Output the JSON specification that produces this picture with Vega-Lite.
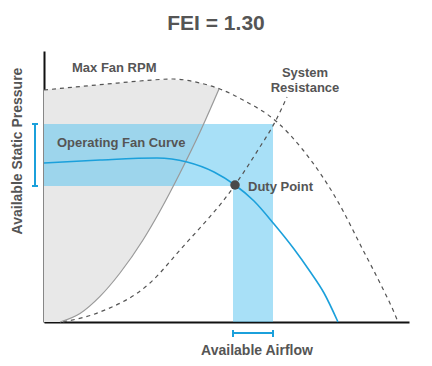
{
  "$schema": "https://vega.github.io/schema/vega-lite/v6.json",
  "width": 365,
  "height": 271,
  "autosize": {"type": "none"},
  "padding": {"left": 44, "top": 51, "right": 23, "bottom": 44},
  "background": "white",
  "config": {
    "view": {"stroke": null},
    "axis": {"domainColor": "#111111", "domainWidth": 2, "ticks": false, "labels": false, "grid": false, "title": null},
    "text": {"font": "Liberation Sans", "fontWeight": "bold", "fill": "#555555"}
  },
  "datasets": {
    "region": [
      {"x": 0, "top": 232, "bottom": 0},
      {"x": 16, "top": 233.5, "bottom": 0},
      {"x": 36, "top": 235.4, "bottom": 8.5},
      {"x": 56, "top": 237.3, "bottom": 25.6},
      {"x": 76, "top": 239.2, "bottom": 49},
      {"x": 99, "top": 241.2, "bottom": 82},
      {"x": 116, "top": 242.2, "bottom": 111},
      {"x": 136, "top": 242, "bottom": 149},
      {"x": 156, "top": 239, "bottom": 190},
      {"x": 175, "top": 233.3, "bottom": 233}
    ],
    "bands": [
      {"x": 0, "x2": 229, "y": 136, "y2": 198},
      {"x": 189, "x2": 229, "y": 0, "y2": 136}
    ],
    "curves": [
      {"series": "Max Fan RPM", "x": 0, "y": 232},
      {"series": "Max Fan RPM", "x": 63, "y": 238},
      {"series": "Max Fan RPM", "x": 96, "y": 241},
      {"series": "Max Fan RPM", "x": 129, "y": 243},
      {"series": "Max Fan RPM", "x": 156, "y": 239},
      {"series": "Max Fan RPM", "x": 176, "y": 233},
      {"series": "Max Fan RPM", "x": 199, "y": 222},
      {"series": "Max Fan RPM", "x": 233, "y": 200},
      {"series": "Max Fan RPM", "x": 259, "y": 172},
      {"series": "Max Fan RPM", "x": 293, "y": 122},
      {"series": "Max Fan RPM", "x": 319, "y": 72},
      {"series": "Max Fan RPM", "x": 336, "y": 39},
      {"series": "Max Fan RPM", "x": 352, "y": 5},
      {"series": "Max Fan RPM", "x": 354, "y": 0},
      {"series": "System Resistance", "x": 19, "y": 0},
      {"series": "System Resistance", "x": 56, "y": 10},
      {"series": "System Resistance", "x": 106, "y": 39},
      {"series": "System Resistance", "x": 136, "y": 72},
      {"series": "System Resistance", "x": 191, "y": 137},
      {"series": "System Resistance", "x": 214, "y": 172},
      {"series": "System Resistance", "x": 231, "y": 200},
      {"series": "System Resistance", "x": 243, "y": 225},
      {"series": "Operating Fan Curve", "x": 0, "y": 159},
      {"series": "Operating Fan Curve", "x": 56, "y": 162},
      {"series": "Operating Fan Curve", "x": 113, "y": 164},
      {"series": "Operating Fan Curve", "x": 143, "y": 160},
      {"series": "Operating Fan Curve", "x": 170, "y": 150},
      {"series": "Operating Fan Curve", "x": 191, "y": 137},
      {"series": "Operating Fan Curve", "x": 210, "y": 121},
      {"series": "Operating Fan Curve", "x": 230, "y": 98},
      {"series": "Operating Fan Curve", "x": 250, "y": 73},
      {"series": "Operating Fan Curve", "x": 265, "y": 52},
      {"series": "Operating Fan Curve", "x": 280, "y": 29},
      {"series": "Operating Fan Curve", "x": 294, "y": 0},
      {"series": "Fan Limit", "x": 16, "y": 0},
      {"series": "Fan Limit", "x": 36, "y": 8.5},
      {"series": "Fan Limit", "x": 56, "y": 25.6},
      {"series": "Fan Limit", "x": 76, "y": 49},
      {"series": "Fan Limit", "x": 99, "y": 82},
      {"series": "Fan Limit", "x": 116, "y": 111},
      {"series": "Fan Limit", "x": 136, "y": 149},
      {"series": "Fan Limit", "x": 156, "y": 190},
      {"series": "Fan Limit", "x": 175, "y": 233}
    ],
    "brackets": [
      {"x": -9, "x2": -9, "y": 136, "y2": 198},
      {"x": -12, "x2": -6, "y": 136, "y2": 136},
      {"x": -12, "x2": -6, "y": 198, "y2": 198},
      {"x": 189, "x2": 229, "y": -11, "y2": -11},
      {"x": 189, "x2": 189, "y": -8, "y2": -15},
      {"x": 229, "x2": 229, "y": -8, "y2": -15}
    ],
    "duty": [{"x": 191, "y": 137}],
    "leftLabels": [
      {"x": 28, "y": 250, "label": "Max Fan RPM"},
      {"x": 13, "y": 175, "label": "Operating Fan Curve"},
      {"x": 204, "y": 131, "label": "Duty Point"}
    ],
    "centerLabels": [
      {"x": 261, "y": 245, "label": "System"},
      {"x": 261, "y": 230, "label": "Resistance"}
    ],
    "titles": [
      {"x": 172, "y": 292, "label": "FEI = 1.30"}
    ],
    "axisTitles": [
      {"x": 213, "y": -33, "label": "Available Airflow", "angle": 0},
      {"x": -22, "y": 171, "label": "Available Static Pressure", "angle": 270}
    ]
  },
  "encoding": {
    "x": {"field": "x", "type": "quantitative", "scale": {"domain": [0, 365], "nice": false, "zero": false}, "axis": {"orient": "bottom"}},
    "y": {"field": "y", "type": "quantitative", "scale": {"domain": [0, 271], "nice": false, "zero": false}, "axis": {"orient": "left"}}
  },
  "layer": [
    {
      "data": {"name": "region"},
      "mark": {"type": "area", "color": "#e8e8e8", "interpolate": "monotone"},
      "encoding": {
        "y": {"field": "top", "type": "quantitative"},
        "y2": {"field": "bottom"}
      }
    },
    {
      "data": {"name": "bands"},
      "mark": {"type": "rect", "color": "#52c2ef", "opacity": 0.5},
      "encoding": {
        "x2": {"field": "x2"},
        "y2": {"field": "y2"}
      }
    },
    {
      "data": {"name": "curves"},
      "transform": [{"filter": "datum.series === 'Fan Limit'"}],
      "mark": {"type": "line", "color": "#9a9a9a", "strokeWidth": 1.2, "interpolate": "monotone"}
    },
    {
      "data": {"name": "curves"},
      "transform": [{"filter": "datum.series === 'Max Fan RPM' || datum.series === 'System Resistance'"}],
      "mark": {"type": "line", "color": "#555555", "strokeWidth": 1.2, "strokeDash": [4, 4], "interpolate": "monotone"},
      "encoding": {"detail": {"field": "series"}}
    },
    {
      "data": {"name": "curves"},
      "transform": [{"filter": "datum.series === 'Operating Fan Curve'"}],
      "mark": {"type": "line", "color": "#1ba0db", "strokeWidth": 1.6, "interpolate": "monotone"}
    },
    {
      "data": {"name": "brackets"},
      "mark": {"type": "rule", "color": "#1ba0db", "strokeWidth": 2},
      "encoding": {
        "x2": {"field": "x2"},
        "y2": {"field": "y2"}
      }
    },
    {
      "data": {"name": "duty"},
      "mark": {"type": "point", "filled": true, "color": "#4a4a4a", "size": 90, "opacity": 1}
    },
    {
      "data": {"name": "leftLabels"},
      "mark": {"type": "text", "fontSize": 13, "baseline": "alphabetic", "align": "left"},
      "encoding": {"text": {"field": "label"}}
    },
    {
      "data": {"name": "centerLabels"},
      "mark": {"type": "text", "fontSize": 13, "baseline": "alphabetic", "align": "center"},
      "encoding": {"text": {"field": "label"}}
    },
    {
      "data": {"name": "titles"},
      "mark": {"type": "text", "fontSize": 21, "baseline": "alphabetic", "align": "center"},
      "encoding": {"text": {"field": "label"}}
    },
    {
      "data": {"name": "axisTitles"},
      "mark": {"type": "text", "fontSize": 14, "baseline": "alphabetic", "align": "center"},
      "encoding": {
        "text": {"field": "label"},
        "angle": {"field": "angle", "type": "quantitative", "scale": null}
      }
    }
  ]
}
